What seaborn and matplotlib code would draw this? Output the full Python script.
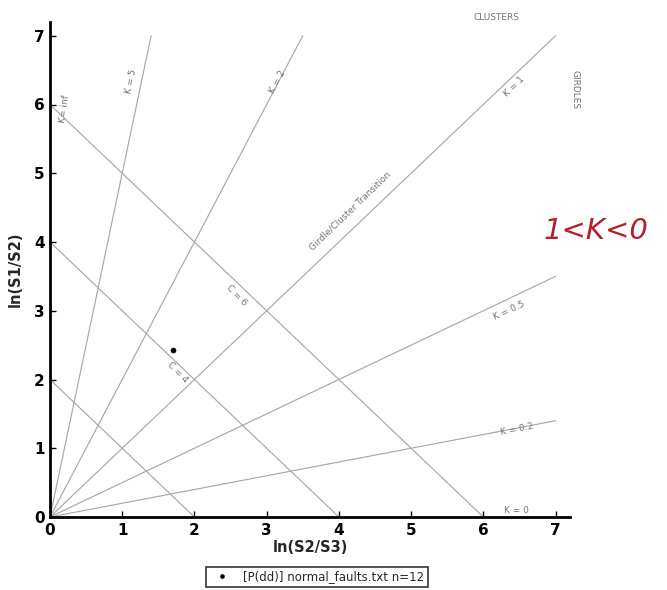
import numpy as np
import pandas as pd
import matplotlib
matplotlib.use("Agg")
import matplotlib.pyplot as plt
import seaborn as sns

# ---- data ----
k_values = [5, 2, 1, 0.5, 0.2]
k_labels = ["K = 5", "K = 2", "K = 1", "K = 0.5", "K = 0.2"]
c_values = [2, 4, 6]
point_x = [1.7]
point_y = [2.43]
legend_label = "[P(dd)] normal_faults.txt n=12"
ticks = [0, 1, 2, 3, 4, 5, 6, 7]
lim = 7.2
end = 7

sns.set_style("ticks")
plt.rcParams['font.family'] = ['DejaVu Sans']

fig = plt.figure(figsize=(6.67, 5.90), dpi=100)
ax = fig.add_axes([50/667, 1-517/590, 520/667, 495/590])

line_kw = dict(color="0.66", linewidth=0.85, legend=False)

# K lines (ratio lines through origin)
for k in k_values:
    xe = end / k if k >= 1 else end
    df = pd.DataFrame({"x": [0, xe], "y": [0, k * xe]})
    sns.lineplot(data=df, x="x", y="y", ax=ax, **line_kw)
# K = 0 and K = inf
sns.lineplot(x=[0, end], y=[0, 0], ax=ax, **line_kw)
sns.lineplot(x=[0, 0], y=[0, end], ax=ax, **line_kw)

# C lines (x + y = C)
for c in c_values:
    df = pd.DataFrame({"x": [0, c], "y": [c, 0]})
    sns.lineplot(data=df, x="x", y="y", ax=ax, **line_kw)

# data point
pts = pd.DataFrame({"x": point_x, "y": point_y, "lab": [legend_label]})
sns.scatterplot(data=pts, x="x", y="y", hue="lab", palette=["black"],
                s=14, marker="o", edgecolor="black", ax=ax)

ax.set_xlim(0, lim)
ax.set_ylim(0, lim)
ax.set_xticks(ticks)
ax.set_yticks(ticks)
ax.tick_params(direction="in", length=4, width=1, labelsize=11, pad=4, colors="black")
for lab in ax.get_xticklabels() + ax.get_yticklabels():
    lab.set_fontweight("bold")
sns.despine(ax=ax)
for s in ["left", "bottom"]:
    ax.spines[s].set_linewidth(2)
    ax.spines[s].set_color("black")

ax.set_xlabel("ln(S2/S3)", fontsize=10.5, fontweight="semibold", labelpad=2)
ax.set_ylabel("ln(S1/S2)", fontsize=10.5, fontweight="semibold", labelpad=8)

# annotation texts
tk = dict(color="0.45", fontsize=6.5, ha="center", va="center")
ax.text(0.2, 5.93, "K= inf", rotation=82, **tk)
ax.text(1.13, 6.33, "K = 5", rotation=78, **tk)
ax.text(3.15, 6.33, "K = 2", rotation=62, **tk)
ax.text(6.43, 6.26, "K = 1", rotation=44, **tk)
ax.text(6.36, 3.0, "K = 0.5", rotation=25, **tk)
ax.text(6.46, 1.28, "K = 0.2", rotation=11, **tk)
ax.text(6.46, 0.1, "K = 0", rotation=0, **tk)
ax.text(2.58, 3.22, "C = 6", rotation=-46, **tk)
ax.text(1.76, 2.1, "C = 4", rotation=-46, **tk)
ax.text(4.15, 4.45, "Girdle/Cluster Transition", rotation=44, **tk)

fig.text(497/667, 1-17/590, "CLUSTERS", color="0.45", fontsize=6.5, ha="center", va="center")
fig.text(575/667, 1-90/590, "GIRDLES", color="0.45", fontsize=6.5, rotation=270,
         ha="center", va="center")
fig.text(596/667, 1-231/590, "1<K<0", color="#b3202c", fontsize=21, style="italic",
         ha="center", va="center")

leg = ax.legend(loc="center", bbox_to_anchor=(317/667, 1-577/590),
                bbox_transform=fig.transFigure, fontsize=8.5, frameon=True,
                fancybox=False, edgecolor="black", borderpad=0.3,
                handletextpad=0.8, markerscale=0.8)
leg.get_frame().set_linewidth(1.2)

fig.savefig("out.png", dpi=100)
